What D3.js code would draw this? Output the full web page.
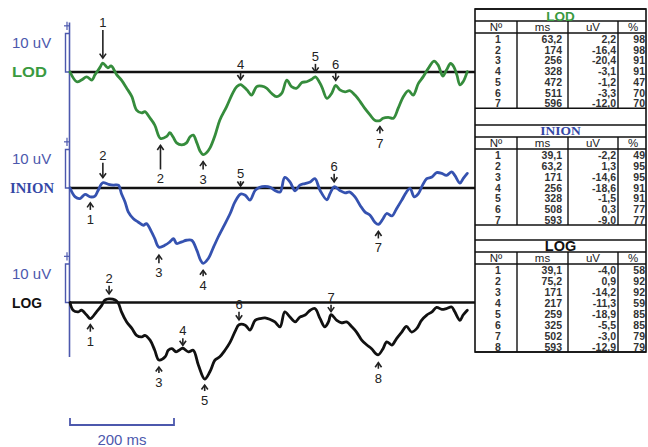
<!DOCTYPE html>
<html><head><meta charset="utf-8">
<script src="https://cdn.jsdelivr.net/npm/d3@7"></script>
<style>
html,body{margin:0;padding:0;background:#fff;}
svg{display:block;}
</style></head>
<body>
<svg id="chart" width="648" height="447"></svg>
<script>
// ---------------- DATA ----------------
const channels = ["LOD", "INION", "LOG"];

// traces: [ms, uV]
const lodTrace = [[0,0],[13,-2.4],[22,-2.0],[32,-1.2],[42,-2.0],[48,-0.7],[58,1.2],[63,2.2],[73,1.0],[79,1.5],[90,-0.7],[99,-2.0],[109,-4.0],[119,-6.1],[128,-9.4],[138,-10.1],[144,-9.8],[154,-11.4],[163,-13.1],[174,-16.4],[186,-15.9],[192,-15.0],[198,-16.0],[205,-17.5],[215,-18.0],[224,-17.5],[231,-16.0],[237,-15.6],[244,-17.5],[250,-19.5],[256,-20.4],[262,-20.0],[269,-18.8],[279,-15.6],[288,-11.9],[301,-8.6],[313,-5.2],[321,-3.6],[328,-3.1],[340,-4.4],[349,-5.7],[359,-3.6],[369,-3.5],[378,-4.0],[388,-5.3],[397,-6.1],[407,-5.3],[417,-2.0],[426,-3.6],[436,-4.0],[446,-2.6],[455,-2.4],[465,-1.8],[472,-1.2],[484,-3.6],[494,-6.5],[503,-5.3],[511,-3.3],[519,-4.4],[529,-4.9],[538,-4.6],[548,-5.7],[558,-7.3],[567,-9.0],[577,-10.6],[586,-11.9],[596,-12.0],[602,-11.4],[612,-11.2],[622,-11.4],[631,-9.0],[641,-6.1],[651,-4.6],[660,-5.7],[670,-2.8],[679,-1.2],[689,0.9],[700,2.7],[708,1.7],[717,-1.0],[724,0.5],[732,2.1],[738,1.3],[744,-0.7],[750,-3.2],[756,-2.4],[764,0.1]];
const inionTrace = [[0,0],[10,-2.2],[19,-2.6],[29,-1.6],[39,-2.2],[48,-2.0],[54,-0.6],[63,1.3],[74,0.9],[83,0.7],[93,0.7],[99,-1.4],[106,-3.5],[112,-5.9],[122,-7.6],[131,-8.4],[141,-9.2],[147,-8.8],[157,-10.9],[163,-12.5],[171,-14.6],[183,-14.1],[192,-13.3],[199,-12.5],[205,-13.7],[215,-13.3],[224,-12.9],[234,-12.9],[244,-15.4],[251,-17.8],[256,-18.6],[266,-17.4],[276,-14.6],[285,-12.1],[295,-9.6],[308,-6.3],[317,-3.5],[328,-1.5],[337,-1.8],[346,-3.0],[356,-0.6],[365,0.2],[375,0.4],[385,0.2],[394,-0.6],[404,-1.0],[413,2.6],[423,1.5],[433,-0.7],[442,0.7],[452,1.1],[462,1.5],[471,2.3],[481,-0.6],[494,-2.9],[500,-1.4],[508,0.3],[519,-0.6],[529,-1.2],[538,-1.0],[548,-2.2],[558,-4.3],[567,-5.9],[577,-6.7],[586,-8.4],[593,-9.0],[602,-7.6],[609,-6.3],[619,-6.9],[628,-5.1],[638,-3.0],[647,-1.0],[654,-0.1],[662,-2.2],[670,-1.4],[678,0.7],[686,2.3],[696,2.7],[705,3.8],[715,3.6],[724,3.1],[734,4.0],[740,3.1],[750,1.2],[756,2.3],[764,3.6]];
const logTrace = [[0,0],[6,-1.9],[16,-2.3],[22,-1.9],[32,-3.1],[39,-4.0],[51,-2.3],[61,-0.7],[67,0.6],[75,0.9],[87,0.6],[93,-0.2],[99,-2.3],[109,-4.8],[119,-6.4],[128,-8.1],[138,-8.5],[144,-8.1],[154,-9.3],[163,-11.8],[171,-14.2],[183,-13.4],[189,-11.8],[196,-11.4],[204,-12.2],[212,-11.6],[217,-11.3],[228,-12.2],[237,-11.8],[247,-15.5],[259,-18.9],[269,-17.1],[279,-14.2],[288,-13.4],[298,-11.8],[308,-9.8],[318,-7.0],[325,-5.5],[337,-5.6],[346,-6.8],[356,-4.4],[365,-4.0],[375,-3.8],[385,-4.2],[394,-4.8],[404,-6.0],[413,-2.3],[423,-3.6],[433,-4.8],[442,-3.6],[452,-3.1],[462,-1.9],[471,-1.5],[481,-4.0],[490,-6.0],[497,-4.8],[502,-3.0],[513,-4.4],[522,-5.0],[532,-4.8],[542,-6.0],[551,-7.3],[561,-9.3],[571,-10.5],[580,-11.4],[588,-12.6],[593,-12.9],[602,-11.4],[609,-9.7],[619,-10.5],[628,-8.9],[638,-7.3],[647,-5.9],[657,-7.3],[667,-6.4],[676,-4.4],[686,-3.1],[696,-2.3],[705,-1.2],[715,-1.7],[724,-1.5],[734,-1.1],[740,-2.3],[750,-4.4],[756,-3.1],[764,-1.9]];

// peak tables: [N, ms, uV, %]
const lodPeaks = [[1,63.2,2.2,98],[2,174,-16.4,98],[3,256,-20.4,91],[4,328,-3.1,91],[5,472,-1.2,47],[6,511,-3.3,70],[7,596,-12.0,70]];
const inionPeaks = [[1,39.1,-2.2,49],[2,63.2,1.3,95],[3,171,-14.6,95],[4,256,-18.6,91],[5,328,-1.5,91],[6,508,0.3,77],[7,593,-9.0,77]];
const logPeaks = [[1,39.1,-4.0,58],[2,75.2,0.9,92],[3,171,-14.2,92],[4,217,-11.3,59],[5,259,-18.9,85],[6,325,-5.5,85],[7,502,-3.0,79],[8,593,-12.9,79]];

// marker arrow directions (down = label above, up = label below)
const lodDirs = ["down","up","up","down","down","down","up"];
const inionDirs = ["up","down","up","up","down","down","up"];
const logDirs = ["up","down","up","down","up","down","down","up"];

const tableHeader = ["N\u00BA", "ms", "uV", "%"];
const scaleUV = 10;       // uV calibration bracket
const scaleMS = 200;      // ms scale bar

// ---------------- STYLE / LAYOUT ----------------
const svg = d3.select("#chart");
const X0 = 70, PX_PER_MS = 0.52;
const PX_PER_UV = 4.05;
const x = d3.scaleLinear().domain([0, 770]).range([X0, X0 + 770 * PX_PER_MS]);
const baselines = {LOD: 72, INION: 188, LOG: 302.5};
const colors = {LOD: "#358c3c", INION: "#3552b0", LOG: "#111111"};
const labelColors = {LOD: "#3a9a3f", INION: "#3448a6", LOG: "#111111"};
const axisBlue = "#4c58ad";
const traces = {LOD: lodTrace, INION: inionTrace, LOG: logTrace};
const peaks = {LOD: lodPeaks, INION: inionPeaks, LOG: logPeaks};
const dirs = {LOD: lodDirs, INION: inionDirs, LOG: logDirs};
// arrow gap/length overrides in px
const arrowStyle = {
  LOD: {1: [5, 28], 2: [7, 24], 3: [7, 8], 7: [6, 7]},
  INION: {1: [6, 7], 2: [5, 15], 3: [8, 8], 4: [7, 6], 5: [8, 5], 7: [7, 7]},
  LOG: {1: [6, 7], 3: [7, 6], 4: [3, 7], 5: [6, 6], 7: [3, 7], 8: [8, 6]}
};
const yScales = {};
channels.forEach(c => {
  const b = baselines[c];
  yScales[c] = d3.scaleLinear().domain([-25, 15]).range([b + 25 * PX_PER_UV, b - 15 * PX_PER_UV]);
});

const fmtNum = v => (Number.isInteger(v) ? String(v) : v.toFixed(1).replace(".", ","));
const fmtUV = v => v.toFixed(1).replace(".", ",");

// --------- left blue axis ---------
svg.append("line").attr("x1", X0 - 0.5).attr("x2", X0 - 0.5)
  .attr("y1", yScales.LOD(12.2)).attr("y2", 357)
  .attr("stroke", axisBlue).attr("stroke-width", 1.6);

channels.forEach(c => {
  const y = yScales[c];
  const g = svg.append("g");
  // plus tick
  g.append("line").attr("x1", X0 - 6).attr("x2", X0).attr("y1", y(11.4)).attr("y2", y(11.4))
    .attr("stroke", axisBlue).attr("stroke-width", 1.2);
  g.append("line").attr("x1", X0 - 3).attr("x2", X0 - 3).attr("y1", y(12.4)).attr("y2", y(10.4))
    .attr("stroke", axisBlue).attr("stroke-width", 1.2);
  // calibration bracket
  g.append("path")
    .attr("d", `M${X0 - 0.5},${y(scaleUV * 0.95)} H${X0 - 4.5} V${y(0)} H${X0 - 0.5}`)
    .attr("fill", "none").attr("stroke", axisBlue).attr("stroke-width", 1.4);
  g.append("text").attr("x", 12).attr("y", y(0) - 24)
    .attr("font-family", "Liberation Sans, Arial, sans-serif").attr("font-size", 15)
    .attr("fill", axisBlue).text(scaleUV + " uV");
  // channel label
  const lbl = g.append("text").attr("x", c === "INION" ? 10 : 12).attr("y", y(0) + 5)
    .attr("font-family", c === "INION" ? "Liberation Serif, Times New Roman, serif" : "Liberation Sans, Arial, sans-serif")
    .attr("font-weight", "bold").attr("font-size", 14)
    .attr("fill", labelColors[c]).text(c);
  lbl.attr("textLength", c === "LOD" ? 35 : c === "INION" ? 44 : 30).attr("lengthAdjust", "spacingAndGlyphs");

  // baseline
  g.append("line").attr("x1", X0).attr("x2", 475).attr("y1", y(0)).attr("y2", y(0))
    .attr("stroke", "#111").attr("stroke-width", 2.6);

  // trace
  const line = d3.line().x(d => x(d[0])).y(d => y(d[1])).curve(d3.curveCatmullRom.alpha(0.5));
  g.append("path").datum(traces[c]).attr("d", line)
    .attr("fill", "none").attr("stroke", colors[c]).attr("stroke-width", 2.8)
    .attr("stroke-linejoin", "round").attr("stroke-linecap", "round");

  // markers
  peaks[c].forEach((p, i) => {
    const [n, ms, uv] = p;
    const dir = dirs[c][i];
    const st = (arrowStyle[c] && arrowStyle[c][n]) || [5, 8];
    const gap = st[0], len = st[1];
    const px = x(ms), py = y(uv);
    const mg = g.append("g");
    let tip, tail, ty, head;
    if (dir === "down") {
      tip = py - gap; tail = tip - len; ty = tail - 3;
      head = `M${px - 3.2},${tip - 4.5} L${px},${tip} L${px + 3.2},${tip - 4.5}`;
    } else {
      tip = py + gap; tail = tip + len; ty = tail + 14;
      head = `M${px - 3.2},${tip + 4.5} L${px},${tip} L${px + 3.2},${tip + 4.5}`;
    }
    mg.append("line").attr("x1", px).attr("x2", px).attr("y1", tail).attr("y2", tip)
      .attr("stroke", "#222").attr("stroke-width", 1.6);
    mg.append("path").attr("d", head).attr("fill", "none").attr("stroke", "#222").attr("stroke-width", 1.6);
    mg.append("text").attr("x", px).attr("y", ty).attr("text-anchor", "middle")
      .attr("font-family", "Liberation Sans, Arial, sans-serif").attr("font-size", 13)
      .attr("fill", "#222").text(n);
  });
});

// --------- time scale bar ---------
const sb = svg.append("g");
sb.append("path").attr("d", `M${x(0)},418 V425 H${x(scaleMS)} V418`)
  .attr("fill", "none").attr("stroke", axisBlue).attr("stroke-width", 1.8);
sb.append("text").attr("x", (x(0) + x(scaleMS)) / 2).attr("y", 445).attr("text-anchor", "middle")
  .attr("font-family", "Liberation Sans, Arial, sans-serif").attr("font-size", 15)
  .attr("fill", axisBlue).text(scaleMS + " ms");

// --------- tables ---------
const T = {x0: 475, x1: 646, cols: [475, 517, 568, 618, 646]};
const sections = [
  {name: "LOD", top: 9, titleH: 12, headH: 12, rowH: 10.75},
  {name: "INION", top: 125, titleH: 12, headH: 12, rowH: 10.85},
  {name: "LOG", top: 240, titleH: 12, headH: 12, rowH: 11}
];
const titleShift = {LOD: 0.5, INION: 2, LOG: 1.2};
const tg = svg.append("g");
const tfont = "Liberation Sans, Arial, sans-serif";
sections.forEach((s, si) => {
  const rows = peaks[s.name];
  const yTitleB = s.top + s.titleH;
  const yHeadB = yTitleB + s.headH;
  const yRowsB = yHeadB + rows.length * s.rowH;
  // horizontal lines
  [s.top, yTitleB, yHeadB, yRowsB].forEach(yy => {
    tg.append("line").attr("x1", T.x0).attr("x2", T.x1).attr("y1", yy).attr("y2", yy)
      .attr("stroke", "#111").attr("stroke-width", 1.4);
  });
  // vertical col lines
  T.cols.slice(1, 4).forEach(cx => {
    tg.append("line").attr("x1", cx).attr("x2", cx).attr("y1", yTitleB).attr("y2", yRowsB)
      .attr("stroke", "#111").attr("stroke-width", 1.4);
  });
  // title
  tg.append("text").attr("x", (T.x0 + T.x1) / 2).attr("y", yTitleB - titleShift[s.name]).attr("text-anchor", "middle")
    .attr("font-family", s.name === "INION" ? "Liberation Serif, Times New Roman, serif" : tfont)
    .attr("font-weight", "bold").attr("font-size", s.name === "LOG" ? 14.5 : 13.5)
    .attr("fill", labelColors[s.name]).text(s.name);
  // header
  const hx = [(T.cols[0] + T.cols[1]) / 2, (T.cols[1] + T.cols[2]) / 2, (T.cols[2] + T.cols[3]) / 2, (T.cols[3] + T.cols[4]) / 2 + 1];
  tableHeader.forEach((h, i) => {
    tg.append("text").attr("x", hx[i]).attr("y", yHeadB - 2).attr("text-anchor", "middle")
      .attr("font-family", tfont).attr("font-size", 11.5).attr("fill", "#222").text(h);
  });
  // rows
  rows.forEach((r, ri) => {
    const yy = yHeadB + (ri + 1) * s.rowH - 0.8;
    const cells = [String(r[0]), fmtNum(r[1]), fmtUV(r[2]), String(r[3])];
    const cx = [hx[0] + 2, T.cols[2] - 6, T.cols[3] - 2, T.cols[4] - 1];
    cells.forEach((t, ci) => {
      tg.append("text").attr("x", cx[ci]).attr("y", yy)
        .attr("text-anchor", ci === 0 ? "middle" : "end")
        .attr("font-family", tfont).attr("font-weight", "bold").attr("font-size", 10.5)
        .attr("fill", "#333").text(t);
    });
  });
});
// outer border
const lastS = sections[2];
const tableBottom = lastS.top + lastS.titleH + lastS.headH + logPeaks.length * lastS.rowH;
tg.append("rect").attr("x", T.x0).attr("y", sections[0].top).attr("width", T.x1 - T.x0)
  .attr("height", tableBottom - sections[0].top).attr("fill", "none").attr("stroke", "#111").attr("stroke-width", 1.6);
</script>
</body></html>
